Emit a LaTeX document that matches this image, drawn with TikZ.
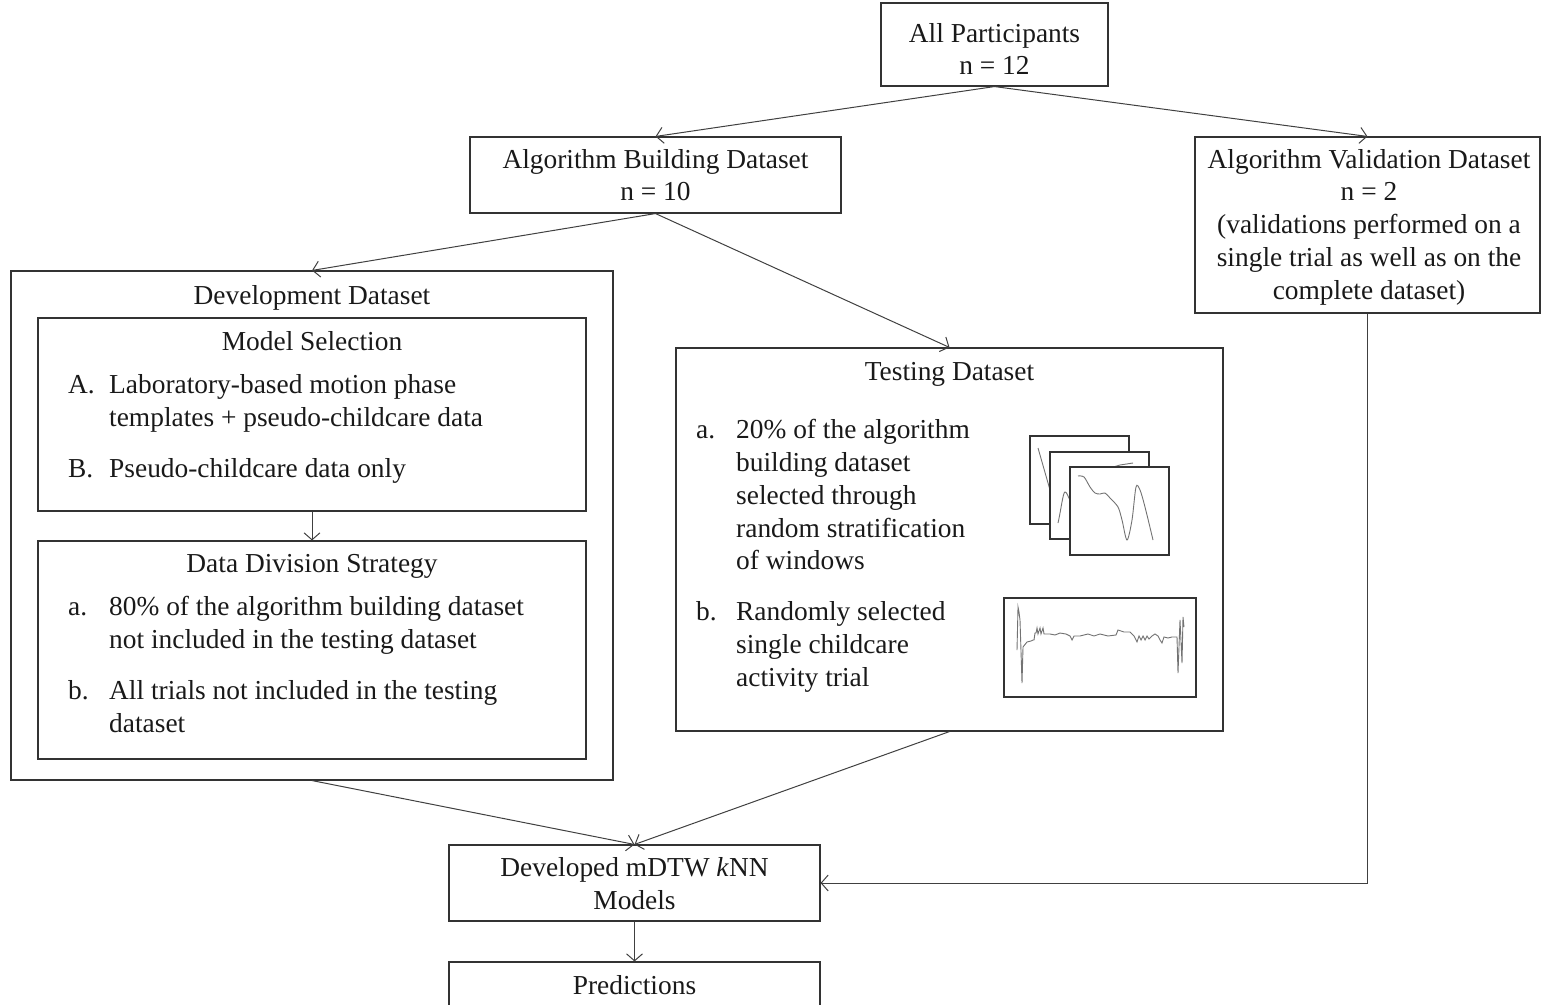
\documentclass[tikz,border=0pt]{standalone}
\usepackage{fontspec}
\setmainfont{Liberation Serif}
\usetikzlibrary{arrows.meta}
\begin{document}
\begin{tikzpicture}[x=1pt,y=-1pt,
  box/.style={draw=black!80, line width=1.1pt, inner sep=0pt, align=center},
  txt/.style={inner sep=0pt, anchor=base, text=black!90},
  ltxt/.style={inner sep=0pt, anchor=base west, text=black!90},
  conn/.style={draw=black!75, line width=1pt, -{Straight Barb[length=7pt,width=16pt]}},
  frame/.style={draw=black!80, line width=1.2pt, fill=white},
  sig/.style={draw=black!55, line width=0.9pt}]
\fontsize{27.4}{32}\selectfont
\path[use as bounding box] (0,0) rectangle (1541,1004);

% top level boxes
\node[box, minimum width=227pt, minimum height=83pt] (all) at (994.5,44.5) {};
\node[txt] (allt1) at (994.5,42) {All Participants};
\node[txt] (allt2) at (994.5,74) {n = 12};

\node[box, minimum width=371pt, minimum height=76pt] (alg) at (655.5,175) {};
\node[txt] (algt1) at (655.5,168) {Algorithm Building Dataset};
\node[txt] (algt2) at (655.5,200) {n = 10};

\node[box, minimum width=345pt, minimum height=176pt] (val) at (1367.5,225) {};
\node[txt] (valt1) at (1369,168) {Algorithm Validation Dataset};
\node[txt] (valt2) at (1369,200) {n = 2};
\node[txt] (valt3) at (1369,233) {(validations performed on a};
\node[txt] (valt4) at (1369,266) {single trial as well as on the};
\node[txt] (valt5) at (1369,299) {complete dataset)};

% development dataset
\node[box, minimum width=602pt, minimum height=509pt] (dev) at (312,525.5) {};
\node[txt] (devt) at (312,304) {Development Dataset};

\node[box, minimum width=548pt, minimum height=193pt] (ms) at (312,414.5) {};
\node[txt] (mst) at (312,350) {Model Selection};
\node[ltxt] (msA) at (68,393) {A.};
\node[ltxt] (msA1) at (109,393) {Laboratory-based motion phase};
\node[ltxt] (msA2) at (109,426) {templates + pseudo-childcare data};
\node[ltxt] (msB) at (68,477) {B.};
\node[ltxt] (msB1) at (109,477) {Pseudo-childcare data only};

\node[box, minimum width=548pt, minimum height=218pt] (dd) at (312,650) {};
\node[txt] (ddt) at (312,572) {Data Division Strategy};
\node[ltxt] (dda) at (68,615) {a.};
\node[ltxt] (dda1) at (109,615) {80\% of the algorithm building dataset};
\node[ltxt] (dda2) at (109,648) {not included in the testing dataset};
\node[ltxt] (ddb) at (68,699) {b.};
\node[ltxt] (ddb1) at (109,699) {All trials not included in the testing};
\node[ltxt] (ddb2) at (109,732) {dataset};

% testing dataset
\node[box, minimum width=547pt, minimum height=383pt] (test) at (949.5,539.5) {};
\node[txt] (testt) at (949.5,380) {Testing Dataset};
\node[ltxt] (ta) at (696,438) {a.};
\node[ltxt] (ta1) at (736,438) {20\% of the algorithm};
\node[ltxt] (ta2) at (736,471) {building dataset};
\node[ltxt] (ta3) at (736,504) {selected through};
\node[ltxt] (ta4) at (736,537) {random stratification};
\node[ltxt] (ta5) at (736,569) {of windows};
\node[ltxt] (tb) at (696,620) {b.};
\node[ltxt] (tb1) at (736,620) {Randomly selected};
\node[ltxt] (tb2) at (736,653) {single childcare};
\node[ltxt] (tb3) at (736,686) {activity trial};

% stacked window plots
\draw[frame] (1030,436) rectangle (1129,524);
\draw[sig] (1038,448) -- (1050,490);
\draw[frame] (1050,452) rectangle (1149,539);
\draw[sig] (1058,523) .. controls (1061,510) and (1063,492) .. (1065,492) .. controls (1067,492) and (1068,497) .. (1070,500);
\draw[sig] (1110,468) -- (1120,465) -- (1133,463);
\draw[frame] (1070,467) rectangle (1169,555);
\draw[sig] plot[smooth] coordinates {(1078,476) (1084,477) (1090,487) (1095,493) (1100,494) (1105,493) (1110,498) (1118,507) (1122,520) (1127,540) (1132,520) (1136,487) (1140,490) (1145,507) (1153,540)};

% single trial plot
\draw[frame] (1004,598) rectangle (1196,697);
\draw[sig] (1017,650) -- (1018,607) -- (1019,612) -- (1020,620) -- (1022,683) -- (1023,647) -- (1027,642) -- (1031,641) -- (1033,640) -- (1034,640) -- (1035,633) -- (1036,633) -- (1037,628) -- (1038,634) -- (1040,628) -- (1041,634) -- (1043,628) -- (1044,634) -- (1050,634) -- (1055,635) -- (1060,633) -- (1066,634) -- (1070,636) -- (1072,640) -- (1074,636) -- (1080,636) -- (1088,634) -- (1094,636) -- (1100,634) -- (1108,636) -- (1116,635) -- (1118,630) -- (1124,632) -- (1130,632) -- (1134,636) -- (1137,642) -- (1139,636) -- (1141,640) -- (1143,636) -- (1145,640) -- (1147,636) -- (1149,639) -- (1152,636) -- (1155,634) -- (1158,636) -- (1160,640) -- (1162,643) -- (1164,637) -- (1168,638) -- (1172,637) -- (1177,637) -- (1178,673) -- (1180,620) -- (1182,663) -- (1183,617) -- (1184,627);

% bottom boxes
\node[box, minimum width=371pt, minimum height=76pt] (devd) at (634.5,883) {};
\node[txt] (devdt1) at (634.5,876) {Developed mDTW \textit{k}NN};
\node[txt] (devdt2) at (634.5,909) {Models};

\node[box, minimum width=371pt, minimum height=80pt] (pred) at (634.5,1002) {};
\node[txt] (predt) at (634.5,994) {Predictions};

% connectors
\draw[conn] (all.south) -- (alg.north);
\draw[conn] (all.south) -- (val.north);
\draw[conn] (alg.south) -- (dev.north);
\draw[conn] (alg.south) -- (test.north);
\draw[conn] (ms.south) -- (dd.north);
\draw[conn] (dev.south) -- (devd.north);
\draw[conn] (test.south) -- (devd.north);
\draw[conn] (val.south) |- (devd.east);
\draw[conn] (devd.south) -- (pred.north);
\end{tikzpicture}
\end{document}
